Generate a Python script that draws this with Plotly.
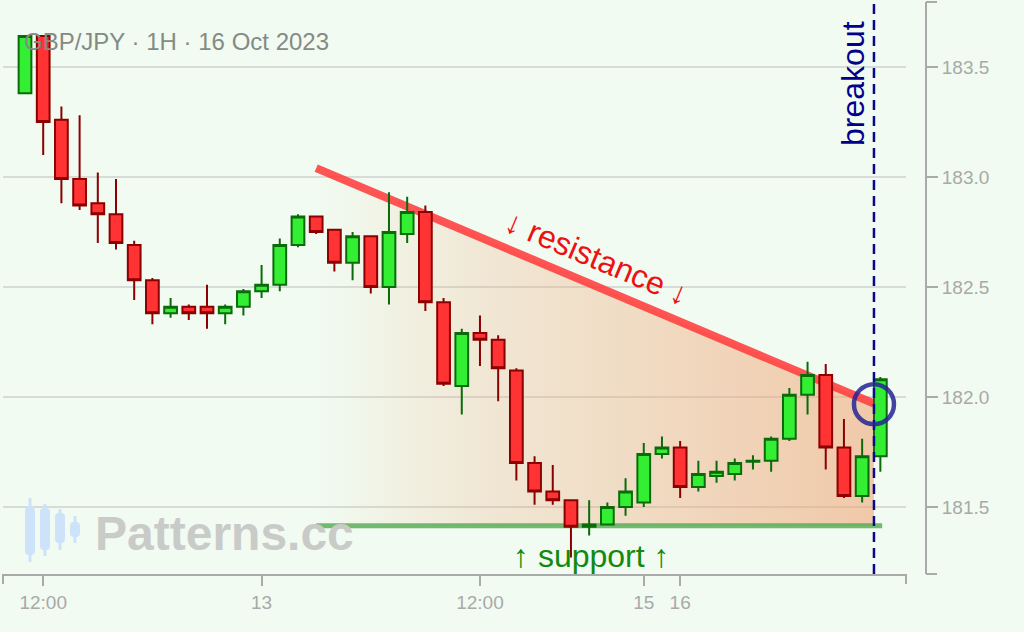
import plotly.graph_objects as go

# ---------------- data ----------------
TIMES = [
    "2023-10-12 11:00", "2023-10-12 12:00", "2023-10-12 13:00", "2023-10-12 14:00",
    "2023-10-12 15:00", "2023-10-12 16:00", "2023-10-12 17:00", "2023-10-12 18:00",
    "2023-10-12 19:00", "2023-10-12 20:00", "2023-10-12 21:00", "2023-10-12 22:00",
    "2023-10-12 23:00",
    "2023-10-13 00:00", "2023-10-13 01:00", "2023-10-13 02:00", "2023-10-13 03:00",
    "2023-10-13 04:00", "2023-10-13 05:00", "2023-10-13 06:00", "2023-10-13 07:00",
    "2023-10-13 08:00", "2023-10-13 09:00", "2023-10-13 10:00", "2023-10-13 11:00",
    "2023-10-13 12:00", "2023-10-13 13:00", "2023-10-13 14:00", "2023-10-13 15:00",
    "2023-10-13 16:00", "2023-10-13 17:00", "2023-10-13 18:00", "2023-10-13 19:00",
    "2023-10-13 20:00",
    "2023-10-15 22:00", "2023-10-15 23:00",
    "2023-10-16 00:00", "2023-10-16 01:00", "2023-10-16 02:00", "2023-10-16 03:00",
    "2023-10-16 04:00", "2023-10-16 05:00", "2023-10-16 06:00", "2023-10-16 07:00",
    "2023-10-16 08:00", "2023-10-16 09:00", "2023-10-16 10:00", "2023-10-16 11:00",
]

OPEN = [183.38, 183.64, 183.26, 182.99, 182.88, 182.83, 182.69, 182.53,
        182.38, 182.41, 182.41, 182.38, 182.41, 182.48, 182.51, 182.69,
        182.82, 182.76, 182.61, 182.73, 182.50, 182.74, 182.84, 182.43,
        182.05, 182.29, 182.26, 182.12, 181.70, 181.57, 181.53, 181.41,
        181.42, 181.50, 181.52, 181.74, 181.77, 181.59, 181.64, 181.65,
        181.705, 181.71, 181.81, 182.01, 182.10, 181.77, 181.55, 181.73]
HIGH = [183.64, 183.64, 183.32, 183.28, 183.02, 182.99, 182.71, 182.54,
        182.45, 182.42, 182.51, 182.42, 182.49, 182.60, 182.72, 182.83,
        182.82, 182.76, 182.75, 182.73, 182.93, 182.91, 182.87, 182.45,
        182.31, 182.37, 182.28, 182.13, 181.73, 181.69, 181.53, 181.53,
        181.52, 181.63, 181.79, 181.82, 181.80, 181.71, 181.71, 181.72,
        181.735, 181.82, 182.04, 182.16, 182.15, 181.90, 181.81, 182.09]
LOW = [183.38, 183.10, 182.88, 182.85, 182.70, 182.67, 182.44, 182.33,
       182.36, 182.35, 182.31, 182.33, 182.37, 182.45, 182.48, 182.68,
       182.74, 182.57, 182.53, 182.47, 182.42, 182.70, 182.39, 182.05,
       181.92, 182.14, 181.98, 181.62, 181.51, 181.51, 181.27, 181.37,
       181.42, 181.46, 181.50, 181.72, 181.54, 181.57, 181.61, 181.62,
       181.67, 181.66, 181.80, 181.92, 181.67, 181.54, 181.52, 181.66]
CLOSE = [183.64, 183.25, 182.99, 182.87, 182.83, 182.70, 182.53, 182.38,
         182.41, 182.38, 182.38, 182.41, 182.48, 182.51, 182.69, 182.82,
         182.75, 182.61, 182.73, 182.50, 182.75, 182.84, 182.43, 182.06,
         182.29, 182.26, 182.13, 181.70, 181.57, 181.53, 181.41, 181.42,
         181.50, 181.57, 181.74, 181.77, 181.59, 181.65, 181.66, 181.70,
         181.71, 181.81, 182.01, 182.10, 181.77, 181.55, 181.73, 182.08]

TICK_TIMES = ["2023-10-12 12:00", "2023-10-13 00:00", "2023-10-13 12:00",
              "2023-10-15 22:00", "2023-10-16 00:00"]
TICK_TEXT = ["12:00", "13", "12:00", "15", "16"]

Y_TICKS = [181.5, 182.0, 182.5, 183.0, 183.5]

# pattern geometry (hour-index positions, prices)
PATTERN_START = 16          # index of "2023-10-13 03:00"
BREAKOUT_X = 46.65          # breakout position on the hourly index
RES_START_PRICE = 183.04
RES_END_PRICE = 181.97
SUPPORT_PRICE = 181.414
SUPPORT_END = 47.1
BREAKOUT_PRICE = 181.967

TITLE = "GBP/JPY · 1H · 16 Oct 2023"

# ---------------- figure ----------------
X = list(range(len(TIMES)))
TICK_POS = [TIMES.index(t) for t in TICK_TIMES]

X_RANGE = [-1.209, 48.41]
Y_RANGE = [181.195, 183.795]

FONT = "Liberation Sans, Arial, sans-serif"

fig = go.Figure()

# gradient-filled triangle area
fig.add_trace(go.Scatter(
    x=[PATTERN_START, BREAKOUT_X, BREAKOUT_X, PATTERN_START, PATTERN_START],
    y=[RES_START_PRICE, RES_END_PRICE, SUPPORT_PRICE, SUPPORT_PRICE, RES_START_PRICE],
    mode="lines", line=dict(width=0), fill="toself",
    fillgradient=dict(type="horizontal",
                      colorscale=[[0, "rgba(240,160,110,0.0)"],
                                  [0.3, "rgba(240,160,110,0.22)"],
                                  [1, "rgba(240,160,110,0.55)"]]),
    hoverinfo="skip", xaxis="x", yaxis="y"))

# support line
fig.add_trace(go.Scatter(
    x=[PATTERN_START, SUPPORT_END], y=[SUPPORT_PRICE, SUPPORT_PRICE],
    mode="lines", line=dict(color="rgba(70,165,70,0.75)", width=5),
    hoverinfo="skip", xaxis="x", yaxis="y"))

# resistance line
fig.add_trace(go.Scatter(
    x=[PATTERN_START, BREAKOUT_X], y=[RES_START_PRICE, RES_END_PRICE],
    mode="lines", line=dict(color="rgba(255,60,60,0.88)", width=8),
    hoverinfo="skip", xaxis="x", yaxis="y"))

# candles on overlay axes (drawn above pattern)
fig.add_trace(go.Candlestick(
    x=X, open=OPEN, high=HIGH, low=LOW, close=CLOSE,
    increasing=dict(line=dict(color="#0b6b0b", width=2), fillcolor="#33ee33"),
    decreasing=dict(line=dict(color="#8b0000", width=2), fillcolor="#ff3333"),
    whiskerwidth=0, xaxis="x2", yaxis="y2", hoverinfo="skip"))

PW, PH = 923.0, 572.0


def px(x):
    return (x - 3) / PW


def py(y):
    return (574 - y) / PH


axis_grey = "#aaaaaa"
tick_font = dict(family=FONT, size=19, color="#a9a9a9")

fig.update_layout(
    width=1024, height=632,
    margin=dict(l=3, r=98, t=2, b=58),
    paper_bgcolor="#f1fbf1", plot_bgcolor="rgba(0,0,0,0)",
    showlegend=False,
    boxgap=0.3, boxgroupgap=0,
    xaxis=dict(domain=[0, 903 / 923], range=X_RANGE, tickvals=TICK_POS, ticktext=TICK_TEXT,
               showgrid=False, zeroline=False, showline=True, linecolor=axis_grey, linewidth=2,
               ticks="outside", ticklen=10, tickwidth=2, tickcolor=axis_grey,
               tickfont=tick_font, rangeslider=dict(visible=False), fixedrange=True),
    yaxis=dict(side="right", anchor="free", position=1, range=Y_RANGE, tickvals=Y_TICKS,
               tickformat=".1f", showgrid=True, gridcolor="#d8dcd8", gridwidth=1.5,
               zeroline=False, showline=True, linecolor=axis_grey, linewidth=2,
               ticks="outside", ticklen=11, tickwidth=2, tickcolor=axis_grey,
               tickfont=tick_font, fixedrange=True),
    xaxis2=dict(overlaying="x", range=X_RANGE, visible=False,
                rangeslider=dict(visible=False), fixedrange=True),
    yaxis2=dict(overlaying="y", range=Y_RANGE, visible=False, fixedrange=True),
    font=dict(family=FONT),
)

shapes = []
# outer ticks of the axes
shapes.append(dict(type="line", xref="paper", yref="paper", x0=0, x1=0, y0=0, y1=-10 / PH,
                   line=dict(color=axis_grey, width=2)))
shapes.append(dict(type="line", xref="paper", yref="paper", x0=903 / 923, x1=903 / 923,
                   y0=0, y1=-10 / PH, line=dict(color=axis_grey, width=2)))
for yy in (0, 1):
    shapes.append(dict(type="line", xref="paper", yref="paper", x0=1, x1=1 + 11 / PW,
                       y0=yy, y1=yy, line=dict(color=axis_grey, width=2)))

# breakout dashed line
shapes.append(dict(type="line", xref="x", yref="paper", x0=BREAKOUT_X, x1=BREAKOUT_X,
                   y0=0, y1=1, layer="above",
                   line=dict(color="#0a0a8a", width=2.5, dash="10px,6px")))
# breakout circle
shapes.append(dict(type="circle", xref="x", yref="y", xsizemode="pixel", ysizemode="pixel",
                   xanchor=BREAKOUT_X, yanchor=BREAKOUT_PRICE, x0=-20, x1=20, y0=-20, y1=20,
                   layer="above", line=dict(color="rgba(35,35,150,0.85)", width=4.5)))

# watermark icon (light blue candles)
ICON = [(25, 35, 507, 555, 498, 562), (40, 50, 508, 550, 504, 556),
        (55, 65, 513, 543, 509, 550), (70, 80, 522, 537, 516, 543)]
for x0, x1, b0, b1, w0, w1 in ICON:
    xc = (x0 + x1) / 2
    shapes.append(dict(type="line", xref="paper", yref="paper", x0=px(xc), x1=px(xc),
                       y0=py(w0), y1=py(w1), line=dict(color="#cde3fa", width=3)))
    r = 4
    path = (f"M{px(x0)},{py(b0 + r)} Q{px(x0)},{py(b0)} {px(x0 + r)},{py(b0)} "
            f"L{px(x1 - r)},{py(b0)} Q{px(x1)},{py(b0)} {px(x1)},{py(b0 + r)} "
            f"L{px(x1)},{py(b1 - r)} Q{px(x1)},{py(b1)} {px(x1 - r)},{py(b1)} "
            f"L{px(x0 + r)},{py(b1)} Q{px(x0)},{py(b1)} {px(x0)},{py(b1 - r)} Z")
    shapes.append(dict(type="path", xref="paper", yref="paper", path=path,
                       fillcolor="#cde3fa", line=dict(width=0)))

fig.update_layout(shapes=shapes)

annotations = [
    dict(text=TITLE, xref="paper", yref="paper", x=px(22), y=py(41), xanchor="left",
         yanchor="middle", showarrow=False, font=dict(family=FONT, size=24, color="#858a85")),
    dict(text="Patterns.cc", xref="paper", yref="paper", x=px(93), y=py(533), xanchor="left",
         yanchor="middle", showarrow=False,
         font=dict(family=FONT, size=48, color="#c9cbc9", weight="bold")),
    dict(text="breakout", xref="x", yref="y", x=BREAKOUT_X, y=183.427, xshift=-21,
         textangle=-90, showarrow=False, font=dict(family=FONT, size=32, color="#00008b")),
    dict(text="↓ resistance ↓", xref="x", yref="y", x=31.43, y=182.632, textangle=22.9,
         showarrow=False, font=dict(family=FONT, size=32, color="#ee1111")),
    dict(text="↑ support ↑", xref="x", yref="y", x=31.15, y=181.277,
         showarrow=False, font=dict(family=FONT, size=32, color="#128a12")),
]
fig.update_layout(annotations=annotations)

fig.write_html("out.html",
               config={"displayModeBar": False},
               post_script="document.body.style.margin='0';"
                           "document.body.style.overflow='hidden';"
                           "document.body.style.background='#f1fbf1';")
